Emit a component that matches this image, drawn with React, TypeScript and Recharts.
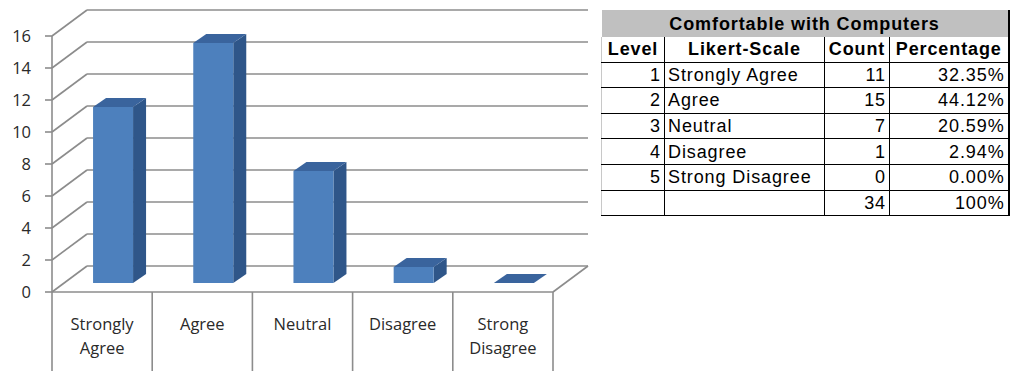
import React from 'react';
import { BarChart, Bar, XAxis, YAxis, CartesianGrid } from 'recharts';

const categories = ['Strongly Agree', 'Agree', 'Neutral', 'Disagree', 'Strong Disagree'];
const counts = [11, 15, 7, 1, 0];
const levels = [1, 2, 3, 4, 5];
const yTicks = [0, 2, 4, 6, 8, 10, 12, 14, 16];

const data = categories.map((category, i) => ({ category, count: counts[i] }));
const total = counts.reduce((a, b) => a + b, 0);

// layout of the pseudo-3D chart
const CHART_W = 600;
const CHART_H = 371;
const MARGIN = { top: 27, right: 36, bottom: 58, left: 3 };
const Y_AXIS_W = 60;
const PLOT_W = CHART_W - MARGIN.left - Y_AXIS_W - MARGIN.right;
const BAND = PLOT_W / categories.length;

// offsets from the plane the bars stand on to the front edge / back wall
const FRONT = { dx: -11, dy: 9 };
const BACK = { dx: 24, dy: -17 };
const DEPTH = { dx: 13, dy: 9 };

const GRID = '#8c8c8c';
const FACE = '#4d80bd';
const SIDE = '#2f5689';
const TOP = '#3a649d';
const LABEL_FONT = '"Open Sans", "DejaVu Sans", sans-serif';

const shift = (o: { dx: number; dy: number }) => `translate(${o.dx},${o.dy})`;

const Box = (props: any) => {
  const { x, y, width, height } = props;
  const r = x + width;
  const b = y + height;
  return (
    <g>
      <polygon
        points={`${r},${y} ${r + DEPTH.dx},${y - DEPTH.dy} ${r + DEPTH.dx},${b - DEPTH.dy} ${r},${b}`}
        fill={SIDE}
      />
      <polygon
        points={`${x},${y} ${x + DEPTH.dx},${y - DEPTH.dy} ${r + DEPTH.dx},${y - DEPTH.dy} ${r},${y}`}
        fill={TOP}
      />
      {height > 0 && <rect x={x} y={y} width={width} height={height} fill={FACE} />}
    </g>
  );
};

// each horizontal grid line: the diagonal on the side wall and the line on the back wall
const wallLine = (p: any) => (
  <g key={p.key}>
    <line
      x1={p.x1 + FRONT.dx}
      y1={p.y1 + FRONT.dy}
      x2={p.x1 + BACK.dx}
      y2={p.y1 + BACK.dy}
      stroke={GRID}
      strokeWidth={1.6}
    />
    <line
      x1={p.x1 + BACK.dx}
      y1={p.y1 + BACK.dy}
      x2={p.x2 + BACK.dx}
      y2={p.y2 + BACK.dy}
      stroke={GRID}
      strokeWidth={1.6}
    />
  </g>
);

const YTick = (props: any) => {
  const { x, y, payload } = props;
  return (
    <text
      x={x + FRONT.dx}
      y={y + FRONT.dy}
      dy="0.36em"
      textAnchor="end"
      fontSize={16.5}
      fontFamily={LABEL_FONT}
      fill="#2a2a2a"
    >
      {payload.value}
    </text>
  );
};

const XTick = (props: any) => {
  const { x, y, payload, index, visibleTicksCount } = props;
  const fx = x + FRONT.dx;
  const fy = y + FRONT.dy;
  const left = fx - BAND / 2;
  const right = fx + BAND / 2;
  const last = index === visibleTicksCount - 1;
  const words = String(payload.value).split(' ');
  return (
    <g>
      <line x1={left} y1={fy} x2={left} y2={CHART_H} stroke={GRID} strokeWidth={1.6} />
      {last && <line x1={right} y1={fy} x2={right} y2={CHART_H} stroke={GRID} strokeWidth={1.6} />}
      {last && (
        <line
          x1={right}
          y1={fy}
          x2={right + BACK.dx - FRONT.dx}
          y2={fy + BACK.dy - FRONT.dy}
          stroke={GRID}
          strokeWidth={1.6}
        />
      )}
      <text x={fx} y={fy + 38} textAnchor="middle" fontSize={16.5} fontFamily={LABEL_FONT} fill="#2a2a2a">
        {words.map((w, i) => (
          <tspan key={i} x={fx} dy={i === 0 ? 0 : 24}>
            {w}
          </tspan>
        ))}
      </text>
    </g>
  );
};

const cell: React.CSSProperties = {
  border: '1px solid #000',
  padding: '0 3px',
  height: 24.6,
  lineHeight: '24px',
  whiteSpace: 'nowrap',
};

const SummaryTable = () => (
  <table
    style={{
      position: 'absolute',
      left: 601,
      top: 10,
      width: 407,
      borderCollapse: 'collapse',
      fontFamily: '"Liberation Sans", Arial, sans-serif',
      fontSize: 18,
      letterSpacing: 0.9,
      color: '#000',
      tableLayout: 'fixed',
    }}
  >
    <colgroup>
      <col style={{ width: 63 }} />
      <col style={{ width: 160 }} />
      <col style={{ width: 65 }} />
      <col style={{ width: 119 }} />
    </colgroup>
    <tbody>
      <tr>
        <td
          colSpan={4}
          style={{
            ...cell,
            background: '#c0c0c0',
            fontWeight: 'bold',
            textAlign: 'center',
            border: 'none',
            borderRight: '2px solid #000',
            height: 27,
          }}
        >
          Comfortable with Computers
        </td>
      </tr>
      <tr style={{ fontWeight: 'bold', textAlign: 'center' }}>
        <td style={{ ...cell, borderLeft: '1px solid #c8c8c8', borderTop: 'none' }}>Level</td>
        <td style={{ ...cell, borderTop: 'none' }}>Likert-Scale</td>
        <td style={{ ...cell, borderTop: 'none' }}>Count</td>
        <td style={{ ...cell, borderTop: 'none', borderRight: '2px solid #000' }}>Percentage</td>
      </tr>
      {categories.map((c, i) => (
        <tr key={c}>
          <td style={{ ...cell, borderLeft: '1px solid #c8c8c8', textAlign: 'right' }}>{levels[i]}</td>
          <td style={cell}>{c}</td>
          <td style={{ ...cell, textAlign: 'right' }}>{counts[i]}</td>
          <td style={{ ...cell, textAlign: 'right', borderRight: '2px solid #000' }}>
            {((counts[i] / total) * 100).toFixed(2)}%
          </td>
        </tr>
      ))}
      <tr>
        <td style={{ ...cell, borderLeft: '1px solid #c8c8c8' }} />
        <td style={cell} />
        <td style={{ ...cell, textAlign: 'right' }}>{total}</td>
        <td style={{ ...cell, textAlign: 'right', borderRight: '2px solid #000' }}>100%</td>
      </tr>
    </tbody>
  </table>
);

export default function App() {
  return (
    <div style={{ position: 'absolute', left: 0, top: 0, width: 1011, height: 371, background: '#fff' }}>
      <div style={{ position: 'absolute', left: 0, top: 0 }}>
        <BarChart width={CHART_W} height={CHART_H} data={data} margin={MARGIN} barCategoryGap="30%">
          <CartesianGrid vertical={false} horizontal={wallLine} fill="none" />
          <XAxis
            dataKey="category"
            height={30}
            interval={0}
            tickSize={0}
            tickMargin={0}
            tickLine={false}
            axisLine={{ stroke: GRID, strokeWidth: 1.6, transform: shift(FRONT) }}
            tick={<XTick />}
          />
          <YAxis
            type="number"
            domain={[0, 16]}
            ticks={yTicks}
            interval={0}
            width={Y_AXIS_W}
            tickSize={7}
            tickMargin={14}
            axisLine={{ stroke: GRID, strokeWidth: 1.6, transform: shift(FRONT) }}
            tickLine={{ stroke: GRID, strokeWidth: 1.6, transform: shift(FRONT) }}
            tick={<YTick />}
          />
          <Bar dataKey="count" shape={<Box />} isAnimationActive={false} />
        </BarChart>
      </div>
      <SummaryTable />
    </div>
  );
}
